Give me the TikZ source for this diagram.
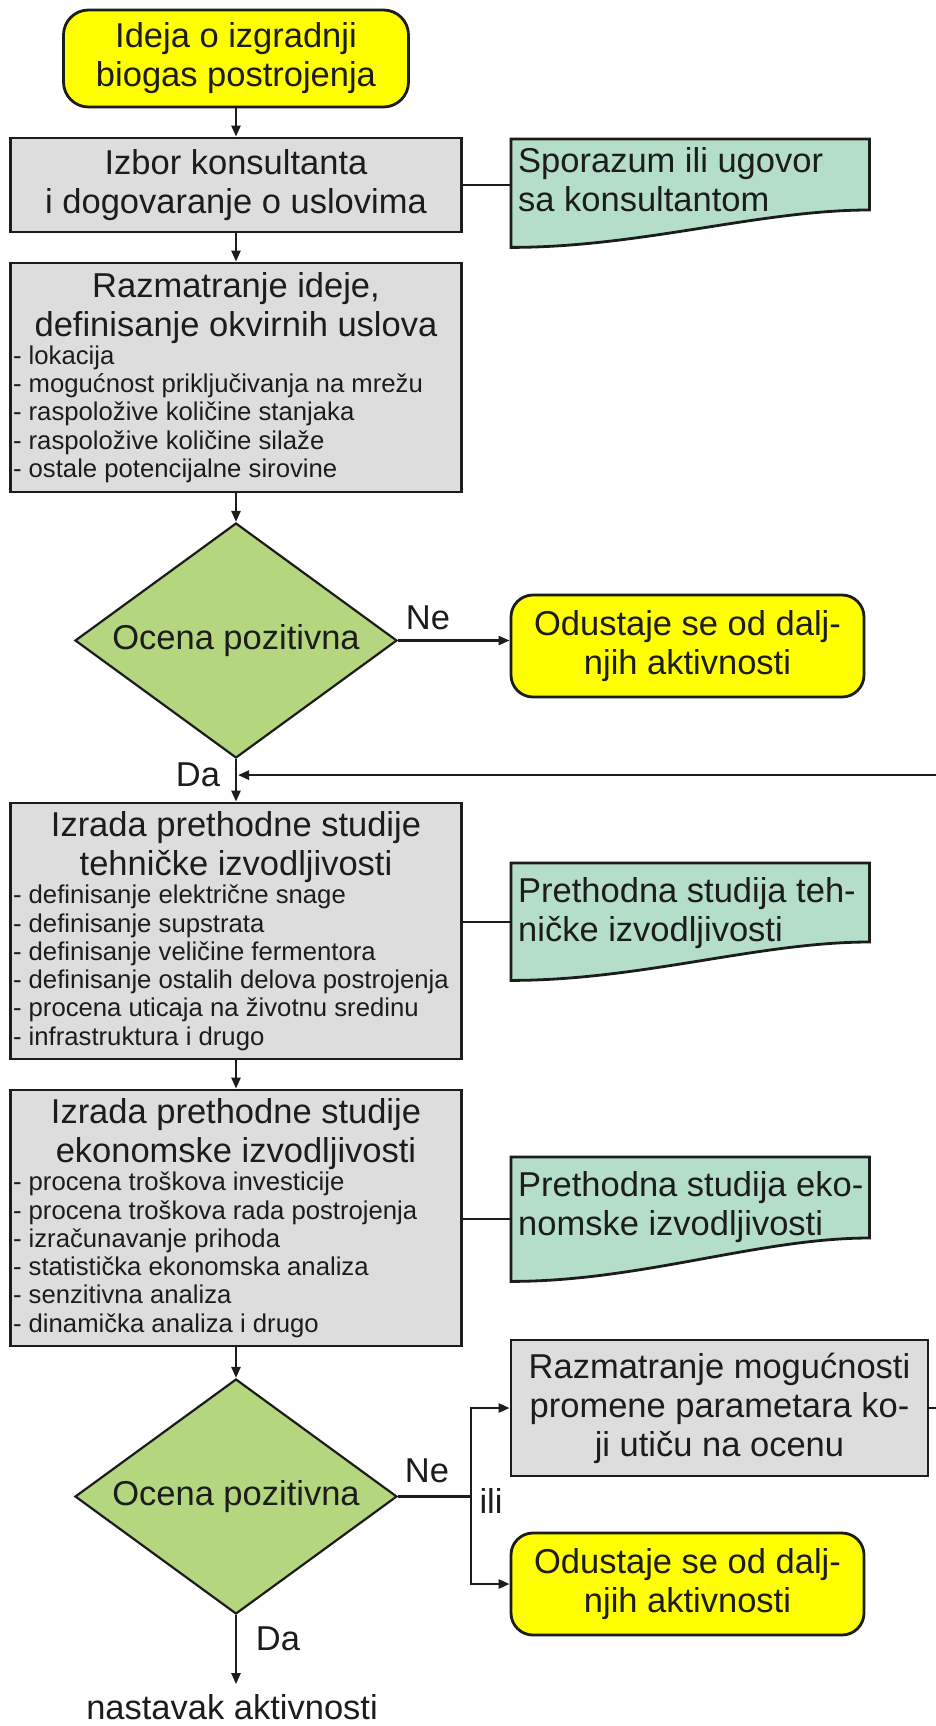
\documentclass[tikz,border=0pt]{standalone}
\usepackage{fontspec}
\setmainfont{Liberation Sans}
\usetikzlibrary{shapes.geometric,arrows.meta,calc}
\definecolor{cyel}{HTML}{FFFF00}
\definecolor{cgray}{HTML}{DDDDDD}
\definecolor{cmint}{HTML}{B5DEC9}
\definecolor{cgreen}{HTML}{B3D67E}
\definecolor{cline}{HTML}{1C1C1C}
\newcommand\bigf{\fontsize{34.5}{39}\selectfont}
\newcommand\smf{\fontsize{25.7}{28.3}\selectfont}
\newcommand\docshape[2]{\path[notefill] (#1.north west) -- (#1.north east) -- ([yshift=-#2pt]#1.north east) .. controls ([xshift=-110pt,yshift=-#2pt]#1.north east) and ([xshift=130pt]#1.south west) .. (#1.south west) -- cycle;}
\hyphenpenalty=10000
\begin{document}
\begin{tikzpicture}[x=1pt,y=-1pt,
  procbox/.style={draw=cline, line width=2.8pt, fill=cgray, inner sep=0pt, font=\bigf, align=center, text=cline},
  listbox/.style={procbox, minimum width=451pt, text width=446pt, align=flush left},
  termbox/.style={draw=cline, line width=2.8pt, fill=cyel, rounded corners=22pt, inner sep=0pt, font=\bigf, align=center, minimum width=353pt, minimum height=102pt, text=cline},
  decision/.style={diamond, draw=cline, line width=2.2pt, fill=cgreen, inner sep=0pt, aspect=1.37, minimum width=322pt, minimum height=235pt, font=\bigf, text=cline},
  notebox/.style={inner sep=0pt, minimum width=358pt, anchor=north west},
  notetext/.style={font=\bigf, align=left, inner sep=0pt, anchor=north west, text=cline},
  notefill/.style={draw=cline, line width=2.8pt, fill=cmint, line join=miter},
  conn/.style={draw=cline, line width=2.4pt},
  arr/.style={conn, -{Triangle[length=11pt,width=9pt]}},
  lbl/.style={font=\bigf, inner sep=0pt, text=cline}
]
\useasboundingbox (0,0) rectangle (936,1726);
\fill[white] (0,0) rectangle (936,1726);

% main column
\node[termbox, minimum width=345pt, minimum height=97pt, rounded corners=25pt] (start) at (236,58.5) {Ideja o izgradnji\\biogas postrojenja};
\node[procbox, minimum width=451pt, minimum height=94pt] (izbor) at (236,185) {Izbor konsultanta\\i dogovaranje o uslovima};
\node[listbox, minimum height=229pt] (razm) at (236,377.5) {{\centering Razmatranje ideje,\\definisanje okvirnih uslova\par}{\smf - lokacija\\- mogućnost priključivanja na mrežu\\- raspoložive količine stanjaka\\- raspoložive količine silaže\\- ostale potencijalne sirovine\par}};
\node[decision] (d1) at (236,640.5) {Ocena pozitivna};
\node[termbox] (odu1) at (687.5,646) {Odustaje se od dalj-\\njih aktivnosti};
\node[listbox, minimum height=256pt] (tech) at (236,931) {{\centering Izrada prethodne studije\\tehničke izvodljivosti\par}{\smf - definisanje električne snage\\- definisanje supstrata\\- definisanje veličine fermentora\\- definisanje ostalih delova postrojenja\\- procena uticaja na životnu sredinu\\- infrastruktura i drugo\par}};
\node[listbox, minimum height=256pt] (econ) at (236,1218) {{\centering Izrada prethodne studije\\ekonomske izvodljivosti\par}{\smf - procena troškova investicije\\- procena troškova rada postrojenja\\- izračunavanje prihoda\\- statistička ekonomska analiza\\- senzitivna analiza\\- dinamička analiza i drugo\par}};
\node[decision] (d2) at (236,1496.5) {Ocena pozitivna};
\node[procbox, minimum width=417pt, minimum height=136pt] (razm2) at (719.5,1408) {Razmatranje mogućnosti\\promene parametara ko-\\ji utiču na ocenu};
\node[termbox] (odu2) at (687.5,1584) {Odustaje se od dalj-\\njih aktivnosti};
\node[lbl, inner ysep=10pt] (nast) at (232,1707) {nastavak aktivnosti};

% documents
\node[notebox, minimum height=108pt] (n1) at (511,139) {};
\docshape{n1}{71}
\node[notetext] (n1t) at ([xshift=7pt,yshift=-8pt]n1.north west) {Sporazum ili ugovor\\sa konsultantom};
\node[notebox, minimum height=117pt] (n2) at (511,863) {};
\docshape{n2}{79}
\node[notetext] (n2t) at ([xshift=7pt,yshift=-14pt]n2.north west) {Prethodna studija teh-\\ničke izvodljivosti};
\node[notebox, minimum height=124pt] (n3) at (511,1157) {};
\docshape{n3}{81}
\node[notetext] (n3t) at ([xshift=7pt,yshift=-14pt]n3.north west) {Prethodna studija eko-\\nomske izvodljivosti};

% labels
\node[lbl] (ne1) at (428,618) {Ne};
\node[lbl] (da1) at (198,775) {Da};
\node[lbl] (ne2) at (427,1471) {Ne};
\node[lbl] (ili) at (491,1501) {ili};
\node[lbl] (da2) at (278,1639) {Da};

% connectors
\draw[arr] (start) -- (izbor);
\draw[conn] (izbor.east) -- (izbor.east -| n1.west);
\draw[arr] (izbor) -- (razm);
\draw[arr] (razm) -- (d1);
\draw[arr] (d1.east) -- (d1.east -| odu1.west);
\coordinate (join) at ([xshift=2pt,yshift=-16pt]d1.south);
\draw[arr] (d1) -- (tech);
\draw[conn] (n2.west -| tech.east) -- (n2.west);
\draw[arr] (tech) -- (econ);
\draw[conn] (n3.west -| econ.east) -- (n3.west);
\draw[arr] (econ) -- (d2);
\coordinate (split) at ([xshift=73pt]d2.east);
\draw[conn] (d2.east) -- (split);
\draw[arr] (split) |- (razm2.west);
\draw[arr] (split) |- (odu2.west);
\draw[arr] (d2.south) -- (d2.south |- nast.north);
\draw[arr] (razm2.east) -- ++(40,0) |- (join);
\end{tikzpicture}
\end{document}
